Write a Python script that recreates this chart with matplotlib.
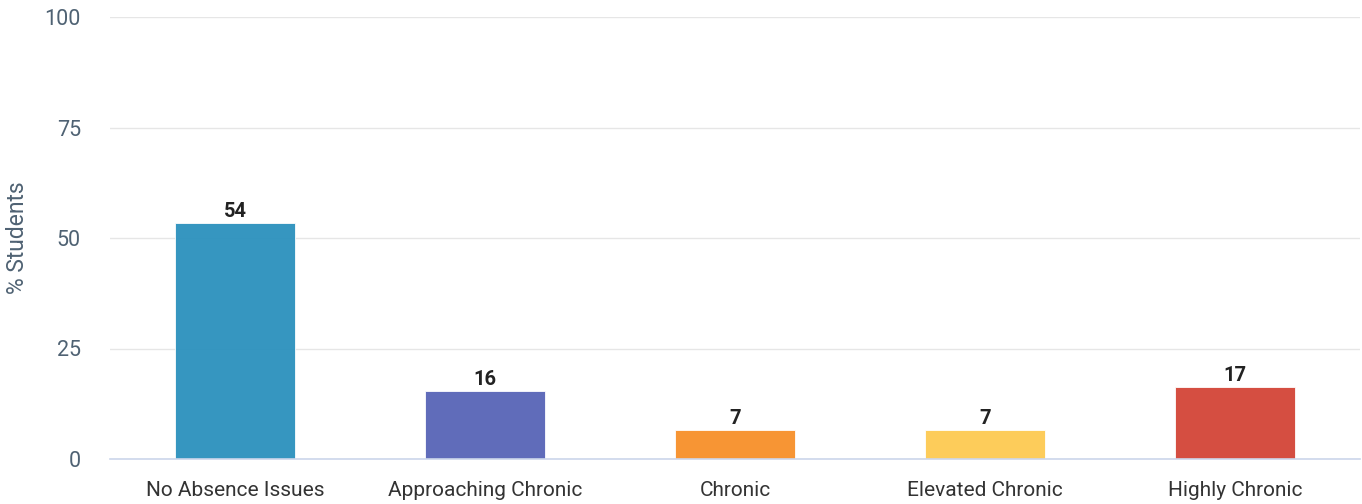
import numpy as np
import matplotlib.pyplot as plt

plt.rcParams['font.family'] = ['Roboto', 'DejaVu Sans']

categories = ['No Absence Issues', 'Approaching Chronic', 'Chronic', 'Elevated Chronic', 'Highly Chronic']
values = [53.4, 15.4, 6.6, 6.6, 16.3]
labels = ['54', '16', '7', '7', '17']
colors = ['#2f93be', '#5b67b8', '#f7922d', '#fdcb55', '#d4483b']

fig = plt.figure(figsize=(13.62, 5.04), dpi=100)
ax = fig.add_axes([110/1362, 45/504, 1250/1362, 442/504])

x = np.arange(len(categories))
bars = ax.bar(x, values, width=0.48, color=colors, alpha=0.97, edgecolor='white', linewidth=0.6, zorder=3)
for xi, v, lab in zip(x, values, labels):
    ax.text(xi, v + 0.5, lab, ha='center', va='bottom', fontsize=14.5, fontweight='bold', color='#222222')

ax.set_xlim(-0.5, len(categories) - 0.5)
ax.set_ylim(0, 100)
ax.set_yticks([0, 25, 50, 75, 100])
ax.set_xticks(x)
ax.set_xticklabels(categories)
ax.tick_params(axis='y', length=0, pad=21, labelsize=15.5, labelcolor='#4f6273')
ax.tick_params(axis='x', length=0, pad=15.5, labelsize=15, labelcolor='#333333')
ax.grid(axis='y', color='#e6e6e6', linewidth=1, zorder=0)
for s in ['top', 'right', 'left']:
    ax.spines[s].set_visible(False)
ax.spines['bottom'].set_color('#ccd6eb')
ax.spines['bottom'].set_linewidth(1.2)
ax.spines['bottom'].set_zorder(4)
fig.text(18/1362, (504-238)/504, '% Students', rotation=90, ha='center', va='center',
         fontsize=16.5, color='#4f6273')

fig.savefig('out.png', dpi=100)
